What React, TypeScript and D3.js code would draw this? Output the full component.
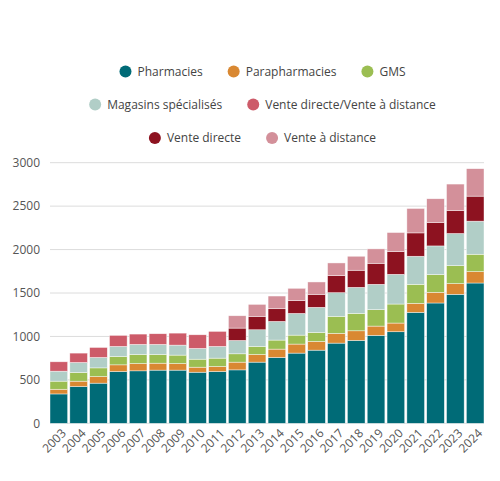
import React, { useEffect, useRef } from 'react';
import * as d3 from 'd3';

const years = ['2003', '2004', '2005', '2006', '2007', '2008', '2009', '2010', '2011', '2012', '2013',
  '2014', '2015', '2016', '2017', '2018', '2019', '2020', '2021', '2022', '2023', '2024'];

const pharmacies = [338, 423, 462, 596, 604, 612, 612, 588, 596, 615, 704, 758, 808, 842, 923, 954, 1012, 1054, 1277, 1385, 1485, 1615];
const parapharmacies = [54, 62, 76, 77, 84, 80, 76, 58, 58, 89, 88, 96, 104, 100, 112, 111, 107, 100, 104, 123, 123, 131];
const gms = [93, 100, 100, 96, 104, 100, 97, 92, 96, 96, 93, 104, 103, 104, 196, 200, 189, 219, 219, 204, 207, 200];
const magasins = [115, 115, 120, 116, 116, 116, 115, 124, 135, 154, 192, 215, 250, 289, 273, 300, 292, 342, 323, 330, 370, 381];
const venteDirecteDistance = [108, 108, 115, 127, 119, 123, 138, 157, 173, 0, 0, 0, 0, 0, 0, 0, 0, 0, 0, 0, 0, 0];
const venteDirecte = [0, 0, 0, 0, 0, 0, 0, 0, 0, 142, 154, 146, 147, 150, 196, 197, 242, 262, 269, 270, 265, 288];
const venteDistance = [0, 0, 0, 0, 0, 0, 0, 0, 0, 142, 138, 146, 142, 142, 146, 161, 166, 219, 281, 273, 304, 316];

const series = [
  { name: 'Pharmacies', values: pharmacies, color: '#006b77' },
  { name: 'Parapharmacies', values: parapharmacies, color: '#d98832' },
  { name: 'GMS', values: gms, color: '#9bbe52' },
  { name: 'Magasins spécialisés', values: magasins, color: '#b1cec7' },
  { name: 'Vente directe/Vente à distance', values: venteDirecteDistance, color: '#cd5b69' },
  { name: 'Vente directe', values: venteDirecte, color: '#8d1220' },
  { name: 'Vente à distance', values: venteDistance, color: '#d3909a' },
];

const legendRows = [[0, 1, 2], [3, 4], [5, 6]];
const yTicks = [0, 500, 1000, 1500, 2000, 2500, 3000];

const App: React.FC = () => {
  const svgRef = useRef<SVGSVGElement>(null);

  useEffect(() => {
    if (!svgRef.current) return;
    const svg = d3.select(svgRef.current);
    svg.selectAll('*').remove();

    const font = '"Open Sans", sans-serif';
    const x = d3.scaleBand<string>().domain(years).range([50, 484]).paddingInner(0.11).paddingOuter(0);
    const y = d3.scaleLinear().domain([0, 3000]).range([423.3, 162.7]);

    // gridlines
    svg.append('g')
      .selectAll('line')
      .data(yTicks)
      .join('line')
      .attr('x1', 50)
      .attr('x2', 484)
      .attr('y1', (d) => y(d))
      .attr('y2', (d) => y(d))
      .attr('stroke', '#dcdcdc')
      .attr('stroke-width', 1);

    svg.append('g')
      .selectAll('text')
      .data(yTicks)
      .join('text')
      .attr('x', 40)
      .attr('y', (d) => y(d))
      .attr('dy', '0.35em')
      .attr('text-anchor', 'end')
      .attr('font-family', font)
      .attr('font-size', 12)
      .attr('fill', '#555')
      .text((d) => d);

    // stacked bars
    const table = years.map((yr, i) => {
      const row: Record<string, number | string> = { year: yr };
      series.forEach((s) => (row[s.name] = s.values[i]));
      return row;
    });
    const stack = d3.stack<Record<string, number | string>>().keys(series.map((s) => s.name))
      .value((d, k) => d[k] as number);
    const layers = stack(table);

    svg.append('g')
      .selectAll('g')
      .data(layers)
      .join('g')
      .attr('fill', (_, i) => series[i].color)
      .selectAll('rect')
      .data((d) => d.filter((p) => p[1] - p[0] > 0))
      .join('rect')
      .attr('x', (d) => x(d.data.year as string)!)
      .attr('width', x.bandwidth())
      .attr('y', (d) => y(d[1]))
      .attr('height', (d) => y(d[0]) - y(d[1]))
      .attr('stroke', '#ffffff')
      .attr('stroke-opacity', 0.7)
      .attr('stroke-width', 0.6);

    // x labels
    svg.append('g')
      .selectAll('text')
      .data(years)
      .join('text')
      .attr('transform', (d) => `translate(${x(d)! + x.bandwidth() / 2 + 5},${431}) rotate(-45)`)
      .attr('text-anchor', 'end')
      .attr('dy', '0.35em')
      .attr('font-family', font)
      .attr('font-size', 12)
      .attr('fill', '#555')
      .text((d) => d);

    // legend
    const rowY = [71.5, 104.5, 138];
    const centerX = 262.5;
    legendRows.forEach((row, ri) => {
      const g = svg.append('g');
      let cursor = 0;
      row.forEach((si) => {
        const item = g.append('g').attr('transform', `translate(${cursor},0)`);
        item.append('circle').attr('cx', 6).attr('cy', 0).attr('r', 6).attr('fill', series[si].color);
        const t = item.append('text')
          .attr('x', 18)
          .attr('y', 0)
          .attr('dy', '0.35em')
          .attr('font-family', font)
          .attr('font-size', 12)
          .attr('fill', '#444')
          .text(series[si].name);
        const w = (t.node() as SVGTextElement).getComputedTextLength();
        cursor += 18 + w + 25;
      });
      const total = cursor - 25;
      g.attr('transform', `translate(${centerX - total / 2},${rowY[ri]})`);
    });
  }, []);

  return (
    <svg
      ref={svgRef}
      width={500}
      height={481}
      style={{ position: 'absolute', left: 0, top: 0, background: '#fff' }}
    />
  );
};

export default App;
